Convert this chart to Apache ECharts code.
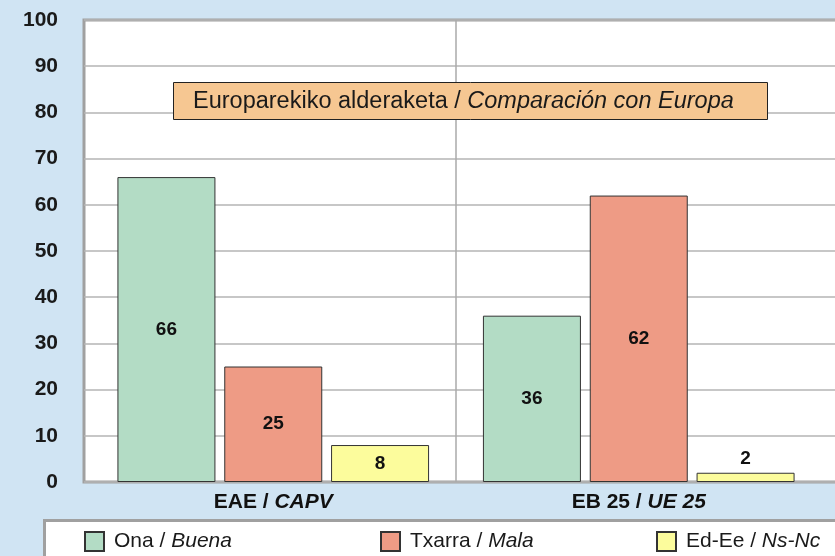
<!DOCTYPE html>
<html>
<head>
<meta charset="utf-8">
<title>Europarekiko alderaketa</title>
<script src="https://cdn.jsdelivr.net/npm/echarts@6/dist/echarts.min.js"></script>
<style>
  html, body { margin: 0; padding: 0; background: #d0e4f3; overflow: hidden; }
  #chart { width: 835px; height: 556px; }
</style>
</head>
<body>
<div id="chart"></div>
<script>
// datuak / datos
const categories = ['EAE / CAPV', 'EB 25 / UE 25'];
const seriesNames = ['Ona / Buena', 'Txarra / Mala', 'Ed-Ee / Ns-Nc'];
const onaValues = [66, 36];
const txarraValues = [25, 62];
const edEeValues = [8, 2];
const yMin = 0;
const yMax = 100;
const yStep = 10;

const titleText = 'Europarekiko alderaketa / Comparación con Europa';
const colors = ['#b3dcc5', '#ee9b85', '#fcfc9c'];
const FONT = '"Liberation Sans", Arial, sans-serif';

// euskara normal, gaztelania etzanez
const bilingual = (text, style) => {
  const parts = text.split(' / ');
  return '{' + style + '|' + parts[0] + ' / }{' + style + 'i|' + parts[1] + '}';
};

const chart = echarts.init(document.getElementById('chart'));

const makeSeries = (name, values, idx) => ({
  name,
  type: 'bar',
  xAxisIndex: 1,
  yAxisIndex: 1,
  barWidth: 98,
  barGap: '9%',
  itemStyle: { color: colors[idx], borderColor: '#333', borderWidth: 1 },
  label: {
    show: true,
    position: 'inside',
    fontFamily: FONT,
    fontWeight: 'bold',
    fontSize: 19,
    color: '#111',
  },
  // balio txikiak barraren gainean
  data: values.map((v) => (v < 5 ? { value: v, label: { position: 'top', distance: 4 } } : v)),
});

const legendBase = {
  itemWidth: 19,
  itemHeight: 19,
  icon: 'rect',
  top: 526,
  formatter: (name) => bilingual(name, 'n'),
  textStyle: {
    padding: [0, 0, 0, 5],
    rich: {
      n: { fontFamily: FONT, fontSize: 21, color: '#1a1a1a' },
      ni: { fontFamily: FONT, fontSize: 21, color: '#1a1a1a', fontStyle: 'italic' },
    },
  },
};

const option = {
  animation: false,
  backgroundColor: '#d0e4f3',
  title: {
    text: bilingual(titleText, 't'),
    left: 173,
    top: 82,
    padding: [7, 34, 6, 20],
    backgroundColor: '#f6c792',
    borderColor: '#222',
    borderWidth: 1,
    textStyle: {
      fontWeight: 'normal',
      rich: {
        t: { fontFamily: FONT, fontSize: 23.5, lineHeight: 25, fontWeight: 'normal', color: '#1a1a1a' },
        ti: { fontFamily: FONT, fontSize: 23.5, lineHeight: 25, fontWeight: 'normal', color: '#1a1a1a', fontStyle: 'italic' },
      },
    },
  },
  graphic: [
    {
      type: 'rect',
      z: 0,
      shape: { x: 44.5, y: 520.5, width: 820, height: 60 },
      style: { fill: '#fff', stroke: '#a0a0a0', lineWidth: 3 },
    },
  ],
  legend: [
    Object.assign({}, legendBase, { data: [seriesNames[0]], left: 79 }),
    Object.assign({}, legendBase, { data: [seriesNames[1]], left: 375 }),
    Object.assign({}, legendBase, { data: [seriesNames[2]], left: 651 }),
  ],
  grid: [
    // marko zuria
    {
      left: 84, top: 20, width: 800, height: 462,
      outerBoundsMode: 'none',
      show: true,
      backgroundColor: '#fff',
      borderColor: '#a0a0a0',
      borderWidth: 3,
    },
    // barrak
    { left: 90.5, top: 20, width: 731, height: 462, outerBoundsMode: 'none' },
  ],
  xAxis: [
    { gridIndex: 0, type: 'value', show: false, min: 0, max: 1 },
    {
      gridIndex: 1,
      type: 'category',
      data: categories,
      axisLine: { show: false },
      axisTick: { show: false },
      splitLine: {
        show: true,
        lineStyle: { color: ['rgba(0,0,0,0)', '#aaa', 'rgba(0,0,0,0)'], width: 1.5 },
      },
      axisLabel: {
        margin: 10,
        formatter: (v) => bilingual(v, 'b'),
        rich: {
          b: { fontFamily: FONT, fontSize: 21, fontWeight: 'bold', color: '#111' },
          bi: { fontFamily: FONT, fontSize: 21, fontWeight: 'bold', fontStyle: 'italic', color: '#111' },
        },
      },
    },
  ],
  yAxis: [
    {
      gridIndex: 0,
      type: 'value',
      min: yMin,
      max: yMax,
      interval: yStep,
      axisLine: { show: false },
      axisTick: { show: false },
      splitLine: { lineStyle: { color: '#b4b4b4', width: 1.5 } },
      axisLabel: {
        margin: 26,
        fontFamily: FONT,
        fontSize: 21,
        fontWeight: 'bold',
        color: '#1a1a1a',
      },
    },
    { gridIndex: 1, type: 'value', min: yMin, max: yMax, show: false },
  ],
  series: [
    makeSeries(seriesNames[0], onaValues, 0),
    makeSeries(seriesNames[1], txarraValues, 1),
    makeSeries(seriesNames[2], edEeValues, 2),
  ],
};

chart.setOption(option);
</script>
</body>
</html>
